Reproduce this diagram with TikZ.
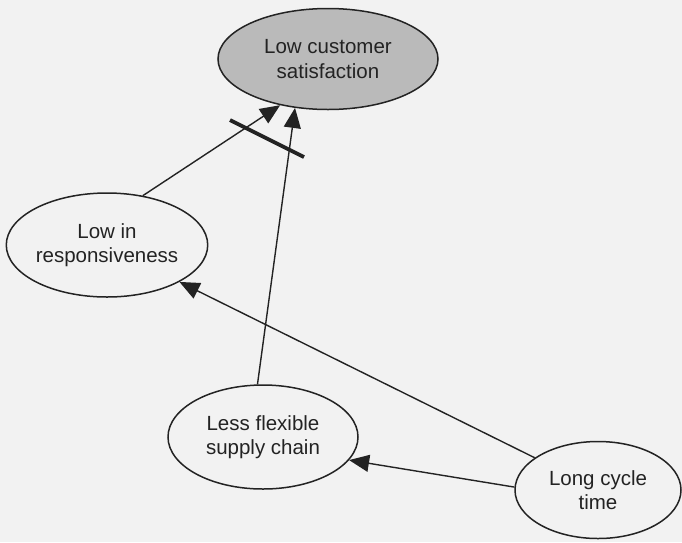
\documentclass[tikz,border=0pt]{standalone}
\usepackage{fontspec}
\setmainfont{Liberation Sans}
\usetikzlibrary{shapes.geometric,arrows.meta}
\definecolor{paper}{RGB}{242,242,242}
\definecolor{shade}{RGB}{186,186,186}
\definecolor{ink}{RGB}{35,35,35}
\tikzset{
  bubble/.style={ellipse, draw=ink, line width=1.5pt, inner sep=0pt,
    align=center, font=\fontsize{20.5}{24.5}\selectfont, text=ink},
  cause/.style={draw=ink, line width=1.4pt,
    -{Triangle[length=20pt,width=17pt]}},
  cutbar/.style={draw=ink, line width=3.8pt}
}
\begin{document}
\begin{tikzpicture}[x=1pt,y=-1pt]
  \fill[paper] (0,0) rectangle (682,542);
  \useasboundingbox (0,0) rectangle (682,542);

  % effect and causes
  \node[bubble, fill=shade, minimum width=220pt, minimum height=101pt]
    (sat) at (328,59) {Low customer\\satisfaction};
  \node[bubble, fill=paper, minimum width=200pt, minimum height=104pt]
    (resp) at (107,245) {Low in\\responsiveness};
  \node[bubble, fill=paper, minimum width=190pt, minimum height=104pt]
    (flex) at (263,437) {Less flexible\\supply chain};
  \node[bubble, fill=paper, minimum width=166pt, minimum height=97pt]
    (cycle) at (598,490) {Long cycle\\time};

  % causal links
  \draw[cause] (resp.54) -- (sat.224);
  \draw[cause] (flex.96) -- (sat.236);
  \draw[cause] (cycle.153) -- (resp.-27);
  \draw[cause] (cycle.178) -- (flex.-15);

  % bar across the two links into the effect
  \coordinate (barA) at (230,120);
  \coordinate (barB) at (304,157);
  \draw[cutbar] (barA) -- (barB);
\end{tikzpicture}
\end{document}
